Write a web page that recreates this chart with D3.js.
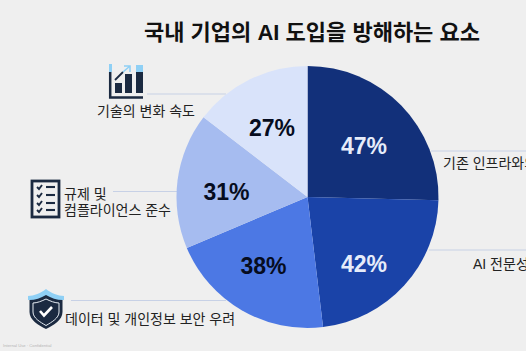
<!DOCTYPE html>
<html>
<head>
<meta charset="utf-8">
<script src="https://cdn.jsdelivr.net/npm/d3@7"></script>
<style>
html, body { margin: 0; padding: 0; background: #efefef; overflow: hidden; }
svg { display: block; }
text { font-family: "Liberation Sans", "Noto Sans CJK KR", sans-serif; }
</style>
</head>
<body>
<script>
// Values
var categories = ["기존 인프라와의", "AI 전문성", "데이터 및 개인정보 보안 우려", "규제 및 컴플라이언스 준수", "기술의 변화 속도"];
var values = [47, 42, 38, 31, 27];
var sliceColors = ["#12307a", "#1a43a8", "#4c78e4", "#a6bcf0", "#d9e3fa"];
var valueColors = ["#e6ecfa", "#e6ecfa", "#060c20", "#060c20", "#060c20"];

var w = 526;
var h = 351;
var cx = 307.5;
var cy = 197;
var radius = 131;

// Offset of each percent label from the pie centre
var labelOffsets = [[56.5, -51], [56.5, 67], [-44, 69], [-81, -5], [-35.5, -69]];

// Leader lines: x1, x2, y
var leaders = [[431, 526, 151], [429, 526, 250], [71, 226, 300.5], [113, 177, 191.5], [147, 226, 94]];

var svg = d3.select("body")
    .append("svg")
    .attr("width", w)
    .attr("height", h);

// Title
svg.append("text")
    .attr("x", 312)
    .attr("y", 39.5)
    .attr("text-anchor", "middle")
    .attr("font-size", "22px")
    .attr("font-weight", "bold")
    .attr("fill", "#111111")
    .text("국내 기업의 AI 도입을 방해하는 요소");

// Leader lines go under the pie
svg.selectAll(".leader")
    .data(leaders)
    .enter()
    .append("line")
    .attr("class", "leader")
    .attr("x1", function(d) { return d[0]; })
    .attr("x2", function(d) { return d[1]; })
    .attr("y1", function(d) { return d[2]; })
    .attr("y2", function(d) { return d[2]; })
    .attr("stroke", "#c7d1e6")
    .attr("stroke-width", 1.2);

// Pie keeps the order of the data, starts at 12 o'clock
var pie = d3.pie().sort(null);
var arc = d3.arc().innerRadius(0).outerRadius(radius);

var pieGroup = svg.append("g")
    .attr("transform", "translate(" + cx + "," + cy + ")");

pieGroup.selectAll("path")
    .data(pie(values))
    .enter()
    .append("path")
    .attr("d", arc)
    .attr("fill", function(d, i) { return sliceColors[i]; });

pieGroup.selectAll(".value")
    .data(values)
    .enter()
    .append("text")
    .attr("class", "value")
    .attr("x", function(d, i) { return labelOffsets[i][0]; })
    .attr("y", function(d, i) { return labelOffsets[i][1]; })
    .attr("dy", "0.36em")
    .attr("text-anchor", "middle")
    .attr("font-size", "23px")
    .attr("font-weight", "bold")
    .attr("fill", function(d, i) { return valueColors[i]; })
    .text(function(d) { return d + "%"; });

// Category labels
function label(x, y, str) {
    svg.append("text")
        .attr("x", x)
        .attr("y", y)
        .attr("font-size", "14px")
        .attr("fill", "#222222")
        .text(str);
}
label(443, 168, categories[0]);
label(473, 269, categories[1]);
label(65, 324, categories[2]);
label(64, 199, "규제 및");
label(64, 215, "컴플라이언스 준수");
label(97, 116, categories[4]);

// Footer
svg.append("text")
    .attr("x", 3)
    .attr("y", 346.5)
    .attr("font-size", "4.2px")
    .attr("fill", "#b5b5b5")
    .text("Internal Use · Confidential");

var dark = "#1b2a41";
var light = "#8fd0f5";

// Chart icon
var iconChart = svg.append("g").attr("transform", "translate(109,64)");
iconChart.append("rect").attr("x", 0).attr("y", 0).attr("width", 3).attr("height", 8).attr("fill", light);
iconChart.append("path").attr("d", "M1.2 8V33.5H34").attr("fill", "none").attr("stroke", dark).attr("stroke-width", 2.5);
var iconBars = [[6, 19, 10], [16, 10, 19], [27, 8, 21]];
iconChart.selectAll(".bar")
    .data(iconBars)
    .enter()
    .append("rect")
    .attr("x", function(d) { return d[0]; })
    .attr("y", function(d) { return d[1]; })
    .attr("width", 7)
    .attr("height", function(d) { return d[2]; })
    .attr("fill", dark);
iconChart.append("rect").attr("x", 27).attr("y", 1).attr("width", 7).attr("height", 7).attr("fill", light);
iconChart.append("path").attr("d", "M6 16L14 8").attr("stroke", dark).attr("stroke-width", 1.8);
iconChart.append("path").attr("d", "M14 8L21 2M15 2H21V8").attr("fill", "none").attr("stroke", light).attr("stroke-width", 1.6);

// Checklist icon
var iconList = svg.append("g").attr("transform", "translate(32,181)");
iconList.append("rect").attr("x", 0).attr("y", 0).attr("width", 27).attr("height", 36)
    .attr("fill", "none").attr("stroke", dark).attr("stroke-width", 2.8);
[6, 14, 22, 29].forEach(function(y) {
    iconList.append("path").attr("d", "M5 " + y + "l2 2l3 -4").attr("fill", "none").attr("stroke", dark).attr("stroke-width", 1.9);
    iconList.append("line").attr("x1", 14).attr("x2", 23).attr("y1", y).attr("y2", y).attr("stroke", dark).attr("stroke-width", 2.1);
});

// Shield icon
var iconShield = svg.append("g").attr("transform", "translate(46,290)");
iconShield.append("path").attr("d", "M0 -1C-5 3 -12 6 -18 6V10H18V6C12 6 5 3 0 -1Z").attr("fill", light);
iconShield.append("path").attr("d", "M0 5C-5 8 -11 10 -16.5 10V22C-16.5 30 -8 35 0 39C8 35 16.5 30 16.5 22V10C11 10 5 8 0 5Z").attr("fill", dark);
iconShield.append("path").attr("d", "M0 9C-4 11 -9 13 -13 13V22C-13 28 -6 32 0 35.5C6 32 13 28 13 22V13C9 13 4 11 0 9Z")
    .attr("fill", "none").attr("stroke", "#e8eef5").attr("stroke-width", 1);
iconShield.append("path").attr("d", "M-6 21L-2 25.5L6 17").attr("fill", "none").attr("stroke", "#ffffff").attr("stroke-width", 2.6);
</script>
</body>
</html>
